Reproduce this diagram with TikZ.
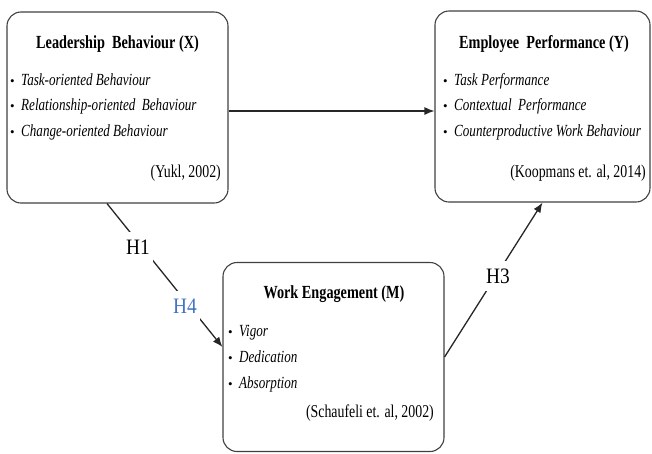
\documentclass[tikz,border=0pt]{standalone}
\usepackage{fontspec}
\setmainfont{Liberation Serif}
\newfontfamily\boxfont[FakeStretch=0.77]{Liberation Serif}
\newfontfamily\hfont[FakeStretch=0.88]{Liberation Serif}
\usetikzlibrary{arrows.meta}
\definecolor{hblue}{HTML}{4472C4}
\begin{document}
\begin{tikzpicture}[x=1pt,y=-1pt]
\tikzset{
 panel/.style={draw=black!75, line width=1.1pt, rounded corners=14pt, inner sep=0pt},
 ttl/.style={font=\boxfont\bfseries\fontsize{18.5}{20}\selectfont, anchor=base, inner sep=0pt},
 itm/.style={font=\boxfont\itshape\fontsize{17}{19}\selectfont, anchor=base west, inner sep=0pt},
 bul/.style={font=\fontsize{13}{14}\selectfont, anchor=base west, inner sep=0pt},
 cit/.style={font=\boxfont\fontsize{18}{20}\selectfont, anchor=base east, inner sep=0pt},
 hyp/.style={font=\hfont\fontsize{22}{23}\selectfont, fill=white, inner xsep=3pt, inner ysep=8pt},
 conn/.style={draw=black!85, line width=1.3pt},
 arr/.style={conn, -{Latex[length=10pt,width=8pt]}}
}
\useasboundingbox (0,0) rectangle (652,453);
% boxes
\node[panel, minimum width=221pt, minimum height=191pt] (X) at (117.5,107.5) {};
\node[panel, minimum width=215pt, minimum height=191pt] (Y) at (542.5,106.5) {};
\node[panel, minimum width=221pt, minimum height=189pt] (M) at (333.5,357) {};
% box X text
\node[ttl] (xt) at (117.5,48) {Leadership\ \ Behaviour\ (X)};
\node[bul] (xb1) at (10,85) {•};
\node[itm] (xi1) at (21,85) {Task-oriented Behaviour};
\node[bul] (xb2) at (10,110) {•};
\node[itm] (xi2) at (21,110) {Relationship-oriented\ \ Behaviour};
\node[bul] (xb3) at (10,136) {•};
\node[itm] (xi3) at (21,136) {Change-oriented Behaviour};
\node[cit] (xc) at (221,177) {(Yukl, 2002)};
% box Y text
\node[ttl] (yt) at (544,48) {Employee\ \ Performance\ (Y)};
\node[bul] (yb1) at (443,85) {•};
\node[itm] (yi1) at (454,85) {Task Performance};
\node[bul] (yb2) at (443,110) {•};
\node[itm] (yi2) at (454,110) {Contextual\ \ Performance};
\node[bul] (yb3) at (443,136) {•};
\node[itm] (yi3) at (454,136) {Counterproductive Work Behaviour};
\node[cit] (yc) at (646,177) {(Koopmans et. al, 2014)};
% box M text
\node[ttl] (mt) at (334,298) {Work Engagement\ (M)};
\node[bul] (mb1) at (228,336) {•};
\node[itm] (mi1) at (239,336) {Vigor};
\node[bul] (mb2) at (228,362) {•};
\node[itm] (mi2) at (239,362) {Dedication};
\node[bul] (mb3) at (228,388) {•};
\node[itm] (mi3) at (239,388) {Absorption};
\node[cit] (mc) at (434,417) {(Schaufeli et. al, 2002)};
% connectors
\draw[arr] ([yshift=-3.5pt]X.east) -- ([yshift=-3.5pt]X.east -| Y.west);
\draw[arr] ([xshift=-10.5pt]X.south) -- ([yshift=10pt]M.west);
\draw[arr] (M.east) -- (Y.south);
% hypothesis labels
\node[hyp] (h1) at (138,247) {H1};
\node[hyp, text=hblue] (h4) at (185,306) {H4};
\node[hyp] (h3) at (498,276) {H3};
\end{tikzpicture}
\end{document}
